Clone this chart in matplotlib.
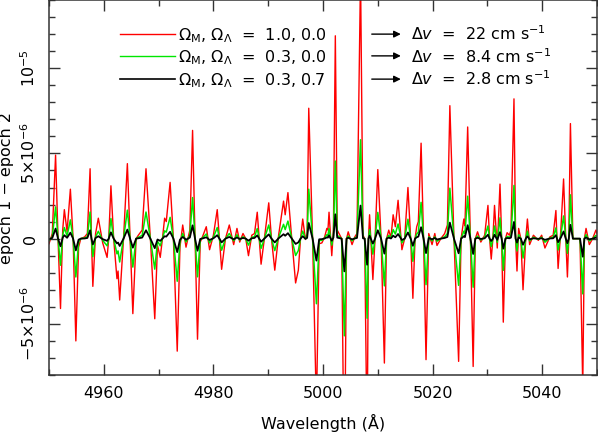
import matplotlib
matplotlib.use("Agg")
import matplotlib.pyplot as plt
from matplotlib.ticker import FixedLocator, FixedFormatter, MultipleLocator

# Wavelength (Angstrom) of curve vertices
wavelength = [
    4950.0, 4950.6, 4951.2, 4951.65, 4952.1, 4952.5, 4952.8, 4953.3, 4953.9, 4954.4,
    4954.9, 4955.4, 4955.8, 4956.5, 4957.0, 4957.5, 4957.75, 4958.0, 4958.5, 4959.0,
    4959.8, 4960.6, 4960.9, 4961.3, 4961.8, 4962.4, 4962.6, 4962.9, 4963.6, 4964.3,
    4964.8, 4965.3, 4965.9, 4966.3, 4967.0, 4967.7, 4968.5, 4969.3, 4969.8, 4970.3,
    4970.7, 4971.1, 4971.4, 4972.1, 4972.7, 4973.4, 4973.9, 4974.4, 4975.0, 4975.7,
    4976.2, 4976.65, 4977.1, 4977.6, 4978.0, 4978.7, 4979.3, 4980.0, 4980.7, 4981.1,
    4981.5, 4982.2, 4982.9, 4983.7, 4984.3, 4984.8, 4985.4, 4985.9, 4986.4, 4987.0,
    4987.5, 4988.0, 4988.35, 4988.7, 4989.3, 4990.1, 4990.6, 4991.2, 4991.9, 4992.8,
    4993.1, 4993.6, 4994.3, 4995.0, 4995.5, 4995.9, 4996.3, 4996.8, 4997.1, 4997.4,
    4998.1, 4998.8, 4999.3, 4999.8, 5000.3, 5000.7, 5000.9, 5001.1, 5001.6, 5001.9,
    5002.25, 5002.6, 5003.4, 5003.9, 5004.3, 5004.6, 5005.3, 5005.8, 5006.2, 5006.85,
    5007.3, 5007.6, 5008.05, 5008.3, 5008.5, 5009.1, 5009.5, 5010.0, 5010.6, 5011.2,
    5011.6, 5012.0, 5012.4, 5012.8, 5013.2, 5013.7, 5014.4, 5014.9, 5015.5, 5016.0,
    5016.4, 5016.8, 5017.1, 5017.4, 5017.9, 5018.35, 5018.8, 5019.3, 5019.9, 5020.4,
    5020.8, 5021.5, 5022.2, 5022.7, 5023.15, 5023.9, 5024.75, 5025.2, 5025.7, 5025.9,
    5026.4, 5026.9, 5027.4, 5027.8, 5028.2, 5028.8, 5029.5, 5030.1, 5030.4, 5030.7,
    5031.0, 5031.3, 5031.8, 5032.3, 5032.6, 5032.9, 5033.3, 5033.6, 5034.0, 5034.3,
    5034.85, 5035.15, 5035.4, 5035.7, 5036.1, 5036.5, 5037.0, 5037.3, 5037.7, 5038.4,
    5039.3, 5039.9, 5040.5, 5041.4, 5042.0, 5042.5, 5042.9, 5043.4, 5043.9, 5044.3,
    5044.6, 5044.85, 5045.15, 5045.6, 5046.4, 5046.9, 5047.4, 5047.7, 5048.0, 5048.6,
    5049.2, 5049.8, 5050.0,
]

# epoch 1 - epoch 2, in units of 1e-6
red_1e6 = [
    -0.3, 0.3, 4.9, 0.0, -4.1, 0.5, 1.7, 0.4, 2.9, 0.0,
    -6.0, -0.5, 0.0, 0.1, 0.3, 4.1, 0.0, -2.8, 0.3, 1.2,
    -0.25, -1.1, 0.0, 3.1, 0.0, -2.35, -1.9, -3.6, 0.0, 4.4,
    0.0, -4.4, 0.0, 0.2, 0.5, 4.1, 0.0, -4.7, -0.4, -1.1,
    0.0, 1.2, 1.0, 3.3, 0.0, -6.6, -0.5, 0.8, -0.5, 0.5,
    6.35, 0.0, -5.9, -0.2, 0.1, 0.7, -0.65, 0.2, 1.7, 0.0,
    -1.8, 0.0, 0.8, -0.35, 0.6, -0.2, 0.3, 0.0, -1.0, 0.2,
    0.3, 1.55, 0.0, -1.5, 0.0, 2.1, 0.0, -1.85, 0.2, 2.2,
    1.4, 2.7, 0.0, -2.6, -1.85, 0.0, 1.15, -0.05, 0.3, 7.65,
    0.0, -10.0, -0.3, -0.25, 0.1, 0.6, 0.5, 1.55, -1.0, 0.5,
    11.9, 0.5, 0.0, -15.0, 0.0, 0.4, -0.35, 0.1, 0.3, 15.5,
    0.2, 0.0, -12.3, 0.0, 1.4, -2.4, 0.0, 4.05, 0.0, -7.3,
    0.0, 0.5, 0.05, 1.4, 0.7, 2.25, -0.65, 0.0, 3.0, 0.0,
    -3.5, 0.0, 0.7, 1.0, 5.6, 0.0, -7.1, 0.3, -0.35, 0.3,
    -0.4, 0.0, 0.3, 0.8, 7.8, 0.0, -7.2, 0.0, 1.15, 0.75,
    6.55, 0.0, -7.5, 0.0, 0.4, -0.2, 0.2, 1.95, 0.0, -1.2,
    0.0, 1.95, -0.55, 3.2, 0.0, -4.9, 0.0, 0.35, 0.2, 0.5,
    8.2, 0.0, -1.9, 0.6, 0.0, -3.0, 0.0, 1.15, -0.35, 0.2,
    -0.1, 0.2, -0.55, 0.1, 0.2, 1.65, -1.75, 0.5, 3.5, 0.0,
    -2.25, 0.0, 6.75, 0.0, 0.0, 0.0, -8.7, 0.0, 0.6, -0.35,
    0.0, 0.5, 0.3,
]

green_1e6 = [
    -0.11, 0.11, 1.86, 0.0, -1.56, 0.19, 0.65, 0.15, 1.1, 0.0,
    -2.25, -0.19, 0.0, 0.04, 0.11, 1.56, 0.0, -1.06, 0.11, 0.43,
    -0.1, -0.42, 0.0, 1.18, 0.0, -0.89, -0.72, -1.37, 0.0, 1.67,
    0.0, -1.67, 0.0, 0.08, 0.19, 1.56, 0.0, -1.79, -0.15, -0.42,
    0.0, 0.46, 0.38, 1.25, 0.0, -2.5, -0.19, 0.3, -0.19, 0.19,
    2.41, 0.0, -2.24, -0.08, 0.04, 0.27, -0.25, 0.08, 0.65, 0.0,
    -0.68, 0.0, 0.3, -0.13, 0.23, -0.08, 0.11, 0.0, -0.38, 0.08,
    0.11, 0.59, 0.0, -0.57, 0.0, 0.8, 0.0, -0.7, 0.08, 0.84,
    0.53, 1.03, 0.0, -0.99, -0.7, 0.0, 0.44, -0.02, 0.11, 2.9,
    0.0, -3.82, -0.11, -0.1, 0.04, 0.23, 0.19, 0.59, -0.38, 0.19,
    4.55, 0.19, 0.0, -5.7, 0.0, 0.15, -0.13, 0.04, 0.11, 5.8,
    0.08, 0.0, -4.67, 0.0, 0.53, -0.91, 0.0, 1.54, 0.0, -2.77,
    0.0, 0.19, 0.02, 0.53, 0.27, 0.86, -0.25, 0.0, 1.14, 0.0,
    -1.33, 0.0, 0.27, 0.38, 2.13, 0.0, -2.7, 0.11, -0.13, 0.11,
    -0.15, 0.0, 0.11, 0.3, 2.96, 0.0, -2.74, 0.0, 0.44, 0.29,
    2.49, 0.0, -2.85, 0.0, 0.15, -0.08, 0.08, 0.74, 0.0, -0.46,
    0.0, 0.74, -0.21, 1.22, 0.0, -1.86, 0.0, 0.13, 0.08, 0.19,
    3.12, 0.0, -0.72, 0.23, 0.0, -1.14, 0.0, 0.44, -0.13, 0.08,
    -0.04, 0.08, -0.21, 0.04, 0.08, 0.63, -0.67, 0.19, 1.33, 0.0,
    -0.86, 0.0, 2.57, 0.0, 0.0, 0.0, -3.24, 0.0, 0.23, -0.13,
    0.0, 0.19, 0.11,
]

black_1e6 = [
    -0.04, 0.04, 0.59, 0.0, -0.45, 0.06, 0.2, 0.05, 0.35, 0.0,
    -0.69, -0.06, 0.0, 0.01, 0.04, 0.49, 0.0, -0.34, 0.04, 0.14,
    -0.03, -0.13, 0.0, 0.37, 0.0, -0.28, -0.23, -0.43, 0.0, 0.53,
    0.0, -0.53, 0.0, 0.02, 0.06, 0.49, 0.0, -0.56, -0.05, -0.13,
    0.0, 0.14, 0.12, 0.4, 0.0, -0.79, -0.06, 0.1, -0.06, 0.06,
    0.78, 0.0, -0.71, -0.02, 0.01, 0.08, -0.08, 0.02, 0.2, 0.0,
    -0.22, 0.0, 0.1, -0.04, 0.07, -0.02, 0.04, 0.0, -0.12, 0.02,
    0.04, 0.19, 0.0, -0.18, 0.0, 0.25, 0.0, -0.22, 0.02, 0.26,
    0.17, 0.32, 0.0, -0.31, -0.22, 0.0, 0.14, -0.01, 0.04, 0.92,
    0.0, -1.29, -0.04, -0.03, 0.01, 0.07, 0.06, 0.19, -0.12, 0.06,
    1.43, 0.06, 0.0, -1.92, 0.0, 0.05, -0.04, 0.01, 0.04, 1.94,
    0.02, 0.0, -1.53, 0.0, 0.17, -0.29, 0.0, 0.49, 0.0, -0.88,
    0.0, 0.06, 0.01, 0.17, 0.08, 0.27, -0.08, 0.0, 0.36, 0.0,
    -0.42, 0.0, 0.08, 0.12, 0.67, 0.0, -0.85, 0.04, -0.04, 0.04,
    -0.05, 0.0, 0.04, 0.1, 0.94, 0.0, -0.86, 0.0, 0.14, 0.09,
    0.79, 0.0, -0.9, 0.0, 0.05, -0.02, 0.02, 0.23, 0.0, -0.14,
    0.0, 0.23, -0.07, 0.38, 0.0, -0.59, 0.0, 0.04, 0.02, 0.06,
    0.98, 0.0, -0.23, 0.07, 0.0, -0.36, 0.0, 0.14, -0.04, 0.02,
    -0.01, 0.02, -0.07, 0.01, 0.02, 0.2, -0.21, 0.06, 0.42, 0.0,
    -0.27, 0.0, 0.81, 0.0, 0.0, 0.0, -1.06, 0.0, 0.07, -0.04,
    0.0, 0.06, 0.04,
]

y_major = [-5, 0, 5, 10]
y_major_labels = [r"$-5{\times}10^{-6}$", "0", r"$5{\times}10^{-6}$", r"$10^{-5}$"]
legend_labels = [r"$\Omega_{\rm M}$, $\Omega_\Lambda$  =  1.0, 0.0",
                 r"$\Omega_{\rm M}$, $\Omega_\Lambda$  =  0.3, 0.0",
                 r"$\Omega_{\rm M}$, $\Omega_\Lambda$  =  0.3, 0.7"]
dv_labels = [r"$\Delta \mathit{v}$  =  22 cm s$^{-1}$",
             r"$\Delta \mathit{v}$  =  8.4 cm s$^{-1}$",
             r"$\Delta \mathit{v}$  =  2.8 cm s$^{-1}$"]

RED, GREEN, BLACK = "#ff0000", "#00e600", "#000000"

plt.rcParams["font.family"] = ["DejaVu Sans"]
plt.rcParams["mathtext.fontset"] = "dejavusans"
fig = plt.figure(figsize=(5.98, 4.33), dpi=100)
ax = fig.add_axes([49 / 598, 58 / 433, 548 / 598, 375 / 433])

ax.plot(wavelength, red_1e6, color=RED, lw=1.0)
ax.plot(wavelength, green_1e6, color=GREEN, lw=1.1)
ax.plot(wavelength, black_1e6, color=BLACK, lw=1.3)

ax.set_xlim(4950, 5050)
ax.set_ylim(-8, 14)
ax.xaxis.set_major_locator(MultipleLocator(20))
ax.xaxis.set_minor_locator(MultipleLocator(10))
ax.yaxis.set_major_locator(FixedLocator(y_major))
ax.yaxis.set_major_formatter(FixedFormatter(y_major_labels))
ax.yaxis.set_minor_locator(MultipleLocator(1))
ax.tick_params(which="both", direction="in", top=True, right=True, width=1.0,
               labelsize=11.5, color="#333333")
ax.tick_params(which="major", length=8)
ax.tick_params(which="minor", length=4.5)
ax.tick_params(axis="x", pad=8)
ax.tick_params(axis="y", pad=8)
for lab in ax.get_yticklabels():
    lab.set_rotation(90)
    lab.set_va("center")
for s in ax.spines.values():
    s.set_linewidth(1.1)
    s.set_color("#333333")

ax.set_xlabel("Wavelength (Å)", fontsize=11.5, labelpad=9)
ax.set_ylabel("epoch 1 − epoch 2", fontsize=11.5, labelpad=4)

line_y = [0.909, 0.851, 0.789]
base_y = [0.893, 0.833, 0.773]
colors = [RED, GREEN, BLACK]
for i in range(3):
    ax.plot([0.1296, 0.2299], [line_y[i], line_y[i]], color=colors[i],
            lw=1.0 if i < 2 else 1.2, transform=ax.transAxes)
    ax.text(0.236, base_y[i], legend_labels[i], transform=ax.transAxes,
            fontsize=11.5, va="baseline", ha="left")
    ax.annotate("", xy=(0.642, line_y[i]), xytext=(0.589, line_y[i]),
                xycoords="axes fraction",
                arrowprops=dict(arrowstyle="-|>", color="k", lw=1.0,
                                mutation_scale=10, shrinkA=0, shrinkB=0))
    ax.text(0.661, base_y[i], dv_labels[i], transform=ax.transAxes,
            fontsize=11.5, va="baseline", ha="left")

fig.savefig("out.png", dpi=100)
